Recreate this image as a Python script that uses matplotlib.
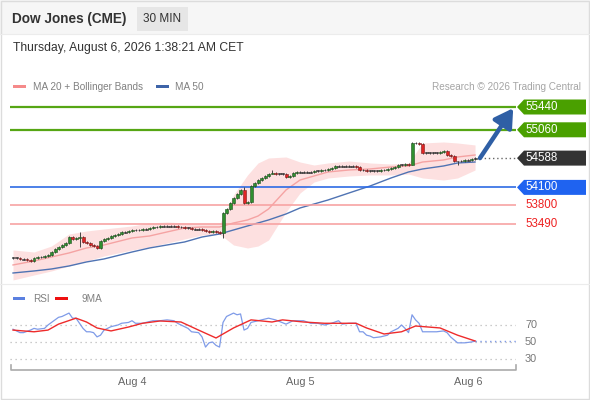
import numpy as np
import pandas as pd
import matplotlib
matplotlib.use('Agg')
import matplotlib.pyplot as plt
import matplotlib.transforms as mtransforms
from matplotlib.patches import Polygon, Rectangle

plt.rcParams['font.family'] = ['Liberation Sans', 'DejaVu Sans']

# ---- data (30 min bars) ----
start_time = '2026-08-03 07:00'
closes = [52925, 52925, 52905, 52905, 52890, 52875, 52925, 52940, 52940, 52955,
          52975, 53025, 53075, 53105, 53140, 53175, 53275, 53240, 53255, 53275,
          53190, 53175, 53140, 53125, 53090, 53205, 53240, 53255, 53290, 53305,
          53325, 53355, 53355, 53375, 53390, 53390, 53390, 53405, 53405, 53425,
          53440, 53440, 53455, 53455, 53455, 53455, 53455, 53440, 53440, 53425,
          53425, 53405, 53405, 53405, 53390, 53375, 53355, 53375, 53355, 53340,
          53675, 53740, 53840, 53925, 53990, 54055, 53840, 53855, 54125, 54175,
          54225, 54255, 54290, 54325, 54340, 54325, 54325, 54325, 54275, 54290,
          54340, 54355, 54355, 54355, 54355, 54355, 54375, 54375, 54390, 54390,
          54405, 54425, 54455, 54455, 54455, 54455, 54455, 54455, 54440, 54390,
          54390, 54375, 54375, 54375, 54375, 54390, 54390, 54405, 54425, 54440,
          54475, 54475, 54490, 54475, 54840, 54840, 54825, 54675, 54675, 54675,
          54675, 54675, 54690, 54705, 54640, 54625, 54540, 54540, 54540, 54555,
          54555, 54575, 54588]
# bars with visible long wicks: index -> (high, low)
wick_extremes = {5: (52900, 52855), 19: (53357, 53107), 24: (53140, 53070),
                 60: (53690, 53257), 66: (54107, 53830), 74: (54390, 54320),
                 114: (54857, 54470), 127: (54545, 54473)}

# indicator readings at selected bars
ind_bars = [0, 6, 11, 16, 21, 26, 34, 39, 44, 49, 54, 59, 63, 67, 70, 73, 78, 82,
            86, 90, 96, 102, 108, 113, 117, 123, 127, 132]
bb_upper = [53057, 53023, 53123, 53323, 53373, 53407, 53457, 53507, 53523, 53507,
            53490, 53490, 53973, 54307, 54507, 54590, 54607, 54523, 54473, 54507,
            54540, 54507, 54490, 54507, 54840, 54857, 54840, 54807]
bb_lower = [52557, 52640, 52707, 52790, 52873, 52957, 53057, 53107, 53173, 53240,
            53307, 53323, 53140, 53090, 53123, 53223, 53690, 54007, 54190, 54257,
            54290, 54307, 54307, 54323, 54257, 54223, 54257, 54390]
ma20 = [52807, 52873, 52940, 53007, 53090, 53140, 53257, 53290, 53357, 53423,
        53440, 53440, 53507, 53557, 53623, 53740, 54057, 54223, 54290, 54357,
        54390, 54407, 54440, 54457, 54523, 54557, 54607, 54640]
ma50 = [52673, 52707, 52740, 52790, 52857, 52907, 53023, 53090, 53140, 53190,
        53273, 53323, 53390, 53457, 53507, 53557, 53657, 53757, 53823, 53890,
        54007, 54123, 54257, 54357, 54407, 54457, 54507, 54523]

rsi_bars = [0, 2, 3, 5, 6, 7, 9, 10, 11, 13, 14, 16, 17, 18, 20, 21, 22, 23, 24, 25,
            26, 28, 30, 31, 33, 34, 35, 37, 38, 40, 42, 44, 46, 47, 49, 50, 51, 53, 54,
            55, 56, 57, 58, 59, 60, 61, 63, 64, 65, 66, 67, 68, 70, 73, 75, 78, 80, 83,
            85, 87, 89, 91, 93, 94, 96, 98, 99, 100, 101, 102, 103, 105, 107, 108, 110,
            111, 112, 113, 114, 115, 116, 117, 119, 121, 123, 124, 125, 127, 129, 131, 132]
rsi_vals = [65, 61, 61, 64, 66, 65, 66, 70, 73, 79, 80, 84, 78, 78, 66, 62, 62, 61, 56, 58,
            64, 68, 70, 72, 73, 75, 72, 72, 73, 75, 75, 76, 75, 72, 68, 66, 62, 61, 56,
            44, 49, 50, 46, 44, 73, 80, 84, 82, 83, 64, 66, 73, 75, 78, 76, 71, 75, 75,
            72, 72, 70, 72, 75, 71, 72, 72, 62, 62, 58, 57, 55, 56, 58, 62, 66,
            70, 66, 61, 82, 76, 72, 62, 62, 62, 63, 61, 56, 49, 49, 50, 51]
rsi_ma_bars = [0, 6, 10, 13, 18, 21, 24, 28, 33, 37, 42, 48, 53, 58, 63, 68, 74, 77,
               83, 89, 98, 101, 106, 111, 115, 122, 127, 132]
rsi_ma_vals = [64, 62, 64, 71, 78, 73.5, 66.5, 63, 67.6, 72, 74.7, 73.5, 64, 54.7,
               66.5, 76, 73.5, 76, 73.5, 72, 72, 66.5, 59.4, 62, 68.8, 66.5, 58, 51.2]

last_price = 54588
resistances = [55440, 55060]
supports = [54100, 53800, 53490]
rsi_levels = [70, 50, 30]

# ---- derived ----
n = len(closes)
opens = [closes[0]] + closes[:-1]
times = pd.date_range(start_time, periods=n, freq='30min')
days = pd.to_datetime(['2026-08-04', '2026-08-05', '2026-08-06'])
day_pos = [(d - times[0]) / pd.Timedelta('30min') for d in days]
day_labels = [d.strftime('%b ') + str(d.day) for d in days]

W, H = 590, 400
fig = plt.figure(figsize=(W / 100, H / 100), dpi=100)


def fx(x):
    return x / W


def fy(y):
    return 1 - y / H


# overlay in pixel coordinates for the frame, header and labels
ov = fig.add_axes([0, 0, 1, 1], zorder=0)
ov.set_xlim(0, W)
ov.set_ylim(H, 0)
ov.axis('off')
ov.add_patch(Rectangle((0, 0), W, 34, facecolor='#f6f6f6', edgecolor='none'))
ov.add_patch(Rectangle((0.5, 0.5), W - 1.5, H - 2, facecolor='none', edgecolor='#dcdcdc', lw=1))
ov.plot([0, W], [34, 34], color='#ececec', lw=0.8)
ov.plot([0, W], [284, 284], color='#ececec', lw=0.8)
ov.add_patch(Rectangle((137, 7), 51, 24, facecolor='#e6e6e6', edgecolor='none'))
ov.text(12, 19.5, 'Dow Jones (CME)', fontsize=9.8, fontweight='bold', color='#333333', va='center')
ov.text(162.5, 19.5, '30 MIN', fontsize=8.5, color='#333333', va='center', ha='center')
ov.text(13, 48, 'Thursday, August 6, 2026 1:38:21 AM CET', fontsize=8.7, color='#333333', va='center')
ov.add_patch(Rectangle((13, 84.5), 13, 3.5, facecolor='#f58a8a', edgecolor='none'))
ov.text(33, 86.5, 'MA 20 + Bollinger Bands', fontsize=7.2, color='#808080', va='center')
ov.add_patch(Rectangle((156, 84.5), 13, 3.5, facecolor='#3e64a8', edgecolor='none'))
ov.text(175, 86.5, 'MA 50', fontsize=7.2, color='#808080', va='center')
ov.text(581, 86.5, 'Research \u00a9 2026 Trading Central', fontsize=7.2, color='#a5a5a5',
        va='center', ha='right')
ov.add_patch(Rectangle((13, 296.5), 12, 3.5, facecolor='#5b80e0', edgecolor='none'))
ov.text(33, 298.5, 'RSI', fontsize=7.2, color='#808080', va='center')
ov.add_patch(Rectangle((55, 296.5), 13, 3.5, facecolor='#ee1111', edgecolor='none'))
ov.text(82, 298.5, '9MA', fontsize=7.2, color='#808080', va='center')
ov.plot([11, 11, 516, 516], [365, 370, 370, 365], color='#aaaaaa', lw=1.2)

# ---- main price panel ----
ax = fig.add_axes([fx(10), fy(282), fx(506), (282 - 92) / H], zorder=1)
ax.set_facecolor('none')
ax.set_xlim(-0.86, 143.7)
ax.set_ylim(52523, 55690)
ax.axis('off')

ax.fill_between(ind_bars, bb_lower, bb_upper, color='#fde0e0', lw=0, zorder=1)
ax.plot(ind_bars, ma20, color='#f5a3a3', lw=1, zorder=2)
ax.plot(ind_bars, ma50, color='#4f73b3', lw=1, zorder=2)

ax.axhline(resistances[0], color='#56a614', lw=1.6, zorder=2)
ax.axhline(resistances[1], color='#56a614', lw=1.6, zorder=2)
ax.axhline(supports[0], color='#2d6be4', lw=1.2, zorder=2)
ax.axhline(supports[1], color='#f7a3a3', lw=1.2, zorder=2)
ax.axhline(supports[2], color='#f7a3a3', lw=1.2, zorder=2)
ax.hlines(last_price, n + 0.5, 143.7, colors='#666666', linestyles=(0, (1, 2)), lw=1, zorder=2)

for i in range(n):
    o, c = opens[i], closes[i]
    hi, lo = wick_extremes.get(i, (max(o, c) + 12, min(o, c) - 12))
    if abs(c - o) < 15:
        col, edge = '#444444', '#333333'
        bottom, height = (o + c) / 2 - 8, 16
    elif c > o:
        col, edge = '#2f8f2f', '#1f4f1f'
        bottom, height = o, c - o
    else:
        col, edge = '#e02424', '#7a1a1a'
        bottom, height = c, o - c
    ax.vlines(i, lo, hi, color='#444444', lw=0.7, zorder=3)
    ax.bar(i, height, bottom=bottom, width=0.85, color=col, edgecolor=edge, lw=0.4, zorder=4)

ax.annotate('', xy=(142.9, resistances[0] - 20), xytext=(n + 0.4, last_price),
            arrowprops=dict(arrowstyle='-|>,head_length=1.1,head_width=0.65', color='#2f5fa5',
                            lw=3.2, shrinkA=0, shrinkB=0), zorder=5)

# level labels on the right
bt = mtransforms.blended_transform_factory(ov.transData, ax.transData)
half = 7.5 * (55690 - 52523) / 190
boxed = [(resistances[0], '#4aa000'), (resistances[1], '#4aa000'),
         (last_price, '#333333'), (supports[0], '#1f63f0')]
for lvl, col in boxed:
    poly = Polygon([(517, lvl), (524, lvl + half), (586, lvl + half), (586, lvl - half),
                    (524, lvl - half)], closed=True, transform=bt, facecolor=col,
                   edgecolor='none', clip_on=False)
    ov.add_patch(poly)
    ov.text(525, lvl, str(lvl), transform=bt, fontsize=8.3, color='white', va='center')
for lvl in supports[1:]:
    ov.text(525, lvl, str(lvl), transform=bt, fontsize=8.3, color='#ee2020', va='center')

# ---- RSI panel ----
ax2 = fig.add_axes([fx(10), fy(368), fx(506), (368 - 305) / H], zorder=1)
ax2.set_facecolor('none')
ax2.set_xlim(-0.86, 143.7)
ax2.set_ylim(19.4, 93.5)
ax2.axis('off')
for lv in rsi_levels:
    ax2.axhline(lv, color='#bbbbbb', lw=0.9, linestyle=(0, (1, 3)), zorder=1)
ax2.plot(rsi_bars, rsi_vals, color='#7f9be8', lw=0.9, zorder=2)
ax2.plot(rsi_ma_bars, rsi_ma_vals, color='#ee2b2b', lw=1, zorder=3)
ax2.hlines(rsi_vals[-1], rsi_bars[-1], 143.7, colors='#7f9be8', linestyles=(0, (1, 2.5)), lw=1)

bt2 = mtransforms.blended_transform_factory(ov.transData, ax2.transData)
for lv in rsi_levels:
    ov.text(525, lv, str(lv), transform=bt2, fontsize=7.8, color='#777777', va='center')

bt3 = mtransforms.blended_transform_factory(ax2.transData, ov.transData)
for pos, lab in zip(day_pos, day_labels):
    ov.text(pos, 382, lab, transform=bt3, fontsize=7.8, color='#666666', ha='center', va='center')

fig.savefig('out.png', dpi=100)
